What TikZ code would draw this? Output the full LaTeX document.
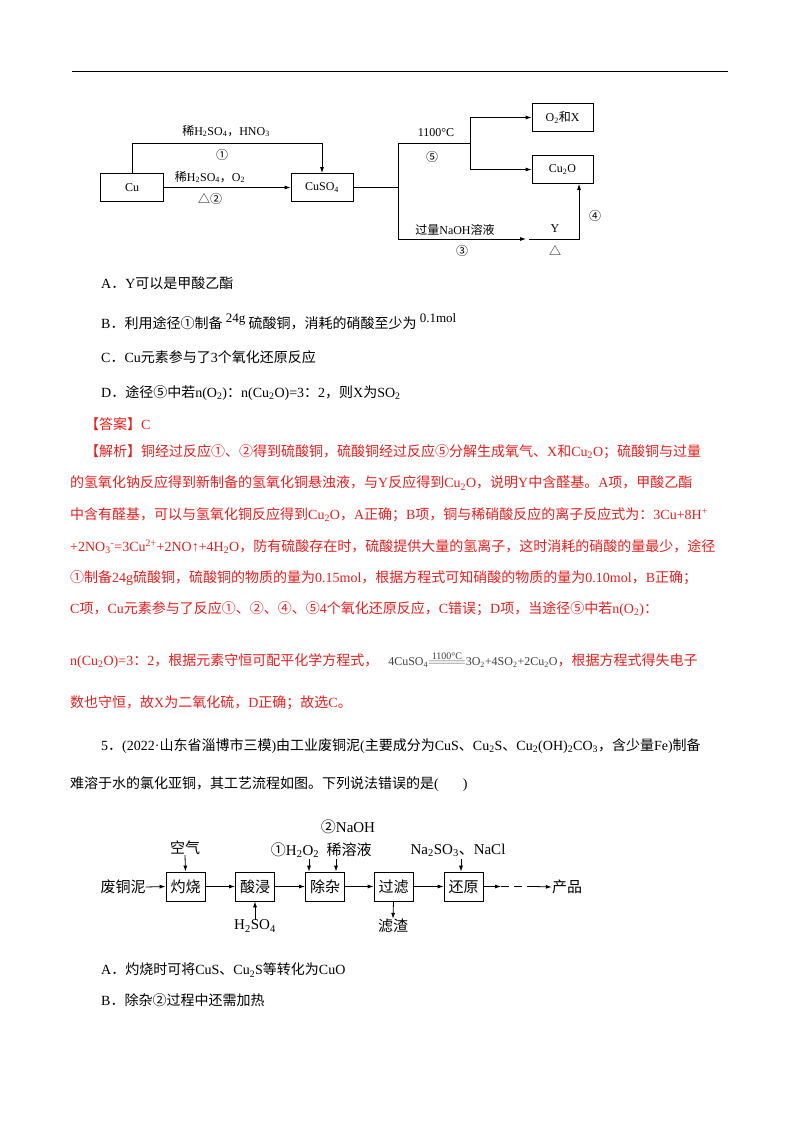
\documentclass[tikz,border=0pt]{standalone}
\usepackage{fontspec}
\setmainfont{Liberation Serif}
\newfontfamily\cjk{Noto Sans CJK SC}
\XeTeXinterchartokenstate=1
\newXeTeXintercharclass\cjkclass
\count255="4E00 \loop\XeTeXcharclass\count255=\cjkclass\advance\count255 1 \ifnum\count255<"A000 \repeat
\count255="3000 \loop\XeTeXcharclass\count255=\cjkclass\advance\count255 1 \ifnum\count255<"3040 \repeat
\count255="FF00 \loop\XeTeXcharclass\count255=\cjkclass\advance\count255 1 \ifnum\count255<"FFF0 \repeat
\count255="2460 \loop\XeTeXcharclass\count255=\cjkclass\advance\count255 1 \ifnum\count255<"2474 \repeat
\XeTeXcharclass"25B3=\cjkclass
\XeTeXinterchartoks 0 \cjkclass={\cjk}
\XeTeXinterchartoks 4095 \cjkclass={\cjk}
\XeTeXinterchartoks \cjkclass 0={\rmfamily}
\newcommand{\sbs}[1]{\textsubscript{#1}}
\newcommand{\sps}[1]{\textsuperscript{#1}}
\newcommand{\eqsign}{$\stackrel{\mbox{\rmfamily\fontsize{10}{10}\selectfont 1100°C}}{=\!=\!=\!=\!=}$}
\definecolor{ansred}{RGB}{232,30,30}
\usetikzlibrary{arrows.meta}
\begin{document}
\begin{tikzpicture}[x=1pt,y=-1pt,
  bx/.style={draw,line width=0.8pt,minimum height=28pt,inner sep=0pt},
  ln/.style={line width=0.8pt},
  ar/.style={line width=0.8pt,-{Latex[length=6pt,width=4pt]}},
  lab/.style={font=\fontsize{12}{12}\selectfont,inner sep=0pt},
  txt/.style={anchor=west,inner sep=0pt,font=\fontsize{14}{16}\selectfont},
  rtxt/.style={txt,text=ansred},
  flab/.style={font=\fontsize{15}{16}\selectfont,inner sep=0pt},
  fbx/.style={draw,line width=0.8pt,minimum width=39pt,minimum height=29pt,inner sep=0pt,font=\fontsize{15}{16}\selectfont}]
\useasboundingbox (0,0) rectangle (800,1132);
\fill[white] (0,0) rectangle (800,1132);
\draw[line width=1pt] (72,72) coordinate(r1) -- (728,72) coordinate(r2);
% diagram 1
\node[bx,minimum width=63pt,lab] (cu) at (132,187.5) {Cu};
\node[bx,minimum width=62pt,lab] (cuso) at (322,187.5) {CuSO\sbs{4}};
\node[bx,minimum width=61pt,lab] (ox) at (562.5,117.5) {O\sbs{2}和X};
\node[bx,minimum width=61pt,lab] (cuo) at (562.5,169.5) {Cu\sbs{2}O};
\coordinate (p1a) at (132,143); \coordinate (p1b) at (322,143);
\draw[ar] (cu.north) -- (p1a) -- (p1b) -- (cuso.north);
\node[lab] at (226,131) {稀H\sbs{2}SO\sbs{4}，HNO\sbs{3}};
\node[lab] at (222,155) {①};
\draw[ar] (cu.east) -- (cuso.west);
\node[lab] at (210,177) {稀H\sbs{2}SO\sbs{4}，O\sbs{2}};
\node[lab] at (210,199) {△②};
\coordinate (j) at (398,187.5); \coordinate (jt) at (398,143); \coordinate (jb) at (398,239);
\coordinate (k) at (470,143); \coordinate (kt) at (470,117.5); \coordinate (kb) at (470,169.5);
\draw[ln] (cuso.east) -- (j); \draw[ln] (jt) -- (jb); \draw[ln] (jt) -- (k); \draw[ln] (kt) -- (kb);
\draw[ar] (kt) -- (ox.west); \draw[ar] (kb) -- (cuo.west);
\node[lab] at (436,133) {1100°C};
\node[lab] at (432,157) {⑤};
\coordinate (e3) at (526,239); \coordinate (ys) at (529,239); \coordinate (yc) at (579,239);
\draw[ar] (jb) -- (e3);
\node[lab] at (455,230) {过量NaOH溶液};
\node[lab] at (462,251) {③};
\draw[ar] (ys) -- (yc) -- (yc|-cuo.south);
\node[lab] at (555,229) {Y};
\node[lab] at (555,251) {△};
\node[lab] at (595,216) {④};
% options
\node[txt] (oa) at (101,283) {A．Y可以是甲酸乙酯};
\node[txt] (ob) at (101,322) {B．利用途径①制备\raisebox{6pt}{\rmfamily\fontsize{13}{13}\selectfont\ 24g\ }硫酸铜，消耗的硝酸至少为\raisebox{6pt}{\rmfamily\fontsize{13}{13}\selectfont\ 0.1mol}};
\node[txt] (oc) at (101,357) {C．Cu元素参与了3个氧化还原反应};
\node[txt] (od) at (101,393) {D．途径⑤中若n(O\sbs{2})：n(Cu\sbs{2}O)=3：2，则X为SO\sbs{2}};
\node[rtxt] (ans) at (85,424) {【答案】C};
\node[rtxt] (l1) at (85,452) {【解析】铜经过反应①、②得到硫酸铜，硫酸铜经过反应⑤分解生成氧气、X和Cu\sbs{2}O；硫酸铜与过量};
\node[rtxt] (l2) at (70,483) {的氢氧化钠反应得到新制备的氢氧化铜悬浊液，与Y反应得到Cu\sbs{2}O，说明Y中含醛基。A项，甲酸乙酯};
\node[rtxt] (l3) at (70,515) {中含有醛基，可以与氢氧化铜反应得到Cu\sbs{2}O，A正确；B项，铜与稀硝酸反应的离子反应式为：3Cu+8H\sps{+}};
\node[rtxt] (l4) at (70,547) {+2NO\sbs{3}\sps{-}=3Cu\sps{2+}+2NO↑+4H\sbs{2}O，防有硫酸存在时，硫酸提供大量的氢离子，这时消耗的硝酸的量最少，途径};
\node[rtxt] (l5) at (70,578) {①制备24g硫酸铜，硫酸铜的物质的量为0.15mol，根据方程式可知硝酸的物质的量为0.10mol，B正确；};
\node[rtxt] (l6) at (70,609) {C项，Cu元素参与了反应①、②、④、⑤4个氧化还原反应，C错误；D项，当途径⑤中若n(O\sbs{2})：};
\node[rtxt] (l7) at (70,660) {n(Cu\sbs{2}O)=3：2，根据元素守恒可配平化学方程式，\hspace{10pt}{\rmfamily\color{black!75}\fontsize{12}{12}\selectfont 4CuSO\sbs{4}\eqsign 3O\sbs{2}+4SO\sbs{2}+2Cu\sbs{2}O}，根据方程式得失电子};
\node[rtxt] (l8) at (70,703) {数也守恒，故X为二氧化硫，D正确；故选C。};
\node[txt] (q5) at (101,746) {5．(2022·山东省淄博市三模)由工业废铜泥(主要成分为CuS、Cu\sbs{2}S、Cu\sbs{2}(OH)\sbs{2}CO\sbs{3}，含少量Fe)制备};
\node[txt] (q5b) at (70,784) {难溶于水的氯化亚铜，其工艺流程如图。下列说法错误的是(\hspace{24pt})};
% diagram 2
\node[flab] (src) at (123,887) {废铜泥};
\node[fbx] (b1) at (185.5,886.5) {灼烧};
\node[fbx] (b2) at (255,886.5) {酸浸};
\node[fbx] (b3) at (325,886.5) {除杂};
\node[fbx] (b4) at (393.5,886.5) {过滤};
\node[fbx] (b5) at (463.5,886.5) {还原};
\node[flab] (prod) at (567,887) {产品};
\coordinate (d1) at (501,886.5); \coordinate (d2) at (535,886.5);
\draw[ar] (src.east) -- (b1.west);
\draw[ar] (b1.east) -- (b2.west);
\draw[ar] (b2.east) -- (b3.west);
\draw[ar] (b3.east) -- (b4.west);
\draw[ar] (b4.east) -- (b5.west);
\draw[ar] (b5.east) -- (d1);
\draw[ln,dash pattern=on 8pt off 5pt] (d1) -- (d2);
\draw[ar] (d2) -- (prod.west);
\node[flab] (air) at (185,848) {空气};
\draw[ar] (air.south) -- (b1.north);
\node[flab] (h2so4) at (255,926) {H\sbs{2}SO\sbs{4}};
\draw[ar] (h2so4.north) -- (b2.south);
\node[flab] (h2o2) at (295,850) {①H\sbs{2}O\sbs{2}};
\coordinate (a1) at (309,859);
\draw[ar] (a1) -- (a1|-b3.north);
\node[flab] (naoh) at (348,827) {②NaOH};
\node[flab] (xrj) at (349,850) {稀溶液};
\coordinate (a2) at (336,859);
\draw[ar] (a2) -- (a2|-b3.north);
\node[flab] (zz) at (393,926) {滤渣};
\draw[ar] (b4.south) -- (zz.north);
\node[flab] (nacl) at (458,850) {Na\sbs{2}SO\sbs{3}、NaCl};
\coordinate (a3) at (461,859);
\draw[ar] (a3) -- (a3|-b5.north);
\node[txt] (pa) at (101,970) {A．灼烧时可将CuS、Cu\sbs{2}S等转化为CuO};
\node[txt] (pb) at (101,1000) {B．除杂②过程中还需加热};
\end{tikzpicture}
\end{document}
